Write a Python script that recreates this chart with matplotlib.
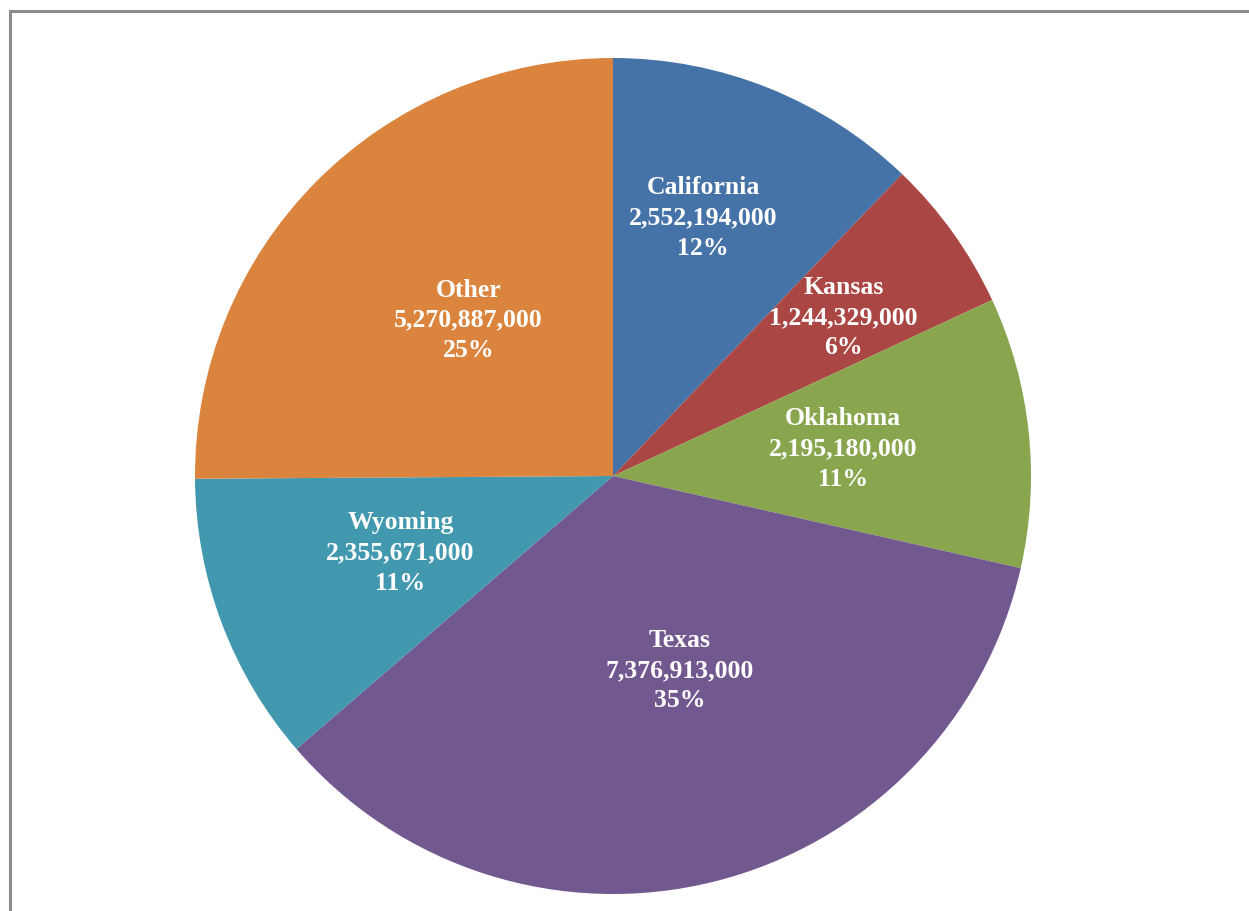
import numpy as np
import matplotlib.pyplot as plt
from matplotlib.lines import Line2D

# Data
states = ['California', 'Kansas', 'Oklahoma', 'Texas', 'Wyoming', 'Other']
values = [2552194000, 1244329000, 2195180000, 7376913000, 2355671000, 5270887000]
pct_labels = ['12%', '6%', '11%', '35%', '11%', '25%']
colors = ['#4572A7', '#AA4643', '#89A54E', '#71588F', '#4198AF', '#DB843D']
# label placement: fraction of radius and angular nudge (deg) from slice middle
label_dist = [0.656, 0.67, 0.555, 0.49, 0.54, 0.51]
label_turn = [2.7, -0.9, 0.9, 5.1, -0.9, -2.5]

W, H = 1249, 912
fig = plt.figure(figsize=(W / 100, H / 100), dpi=100)
ax = fig.add_axes([0, 0, 1, 1])

cx, cy, r = 613, H - 477, 418
wedges, _ = ax.pie(values, colors=colors, startangle=90, counterclock=False,
                   center=(cx, cy), radius=r, frame=True)
ax.set_xlim(0, W)
ax.set_ylim(0, H)
ax.set_aspect('equal')
ax.axis('off')

for w, name, v, p, d, t in zip(wedges, states, values, pct_labels, label_dist, label_turn):
    mid = np.deg2rad((w.theta1 + w.theta2) / 2 + t)
    x = cx + d * r * np.cos(mid)
    y = cy + d * r * np.sin(mid)
    ax.text(x, y, f'{name}\n{v:,}\n{p}', ha='center', va='center',
            color='white', fontsize=18.5, fontweight='bold',
            family='Liberation Serif', linespacing=1.4)

# chart frame (only top and left visible in the crop)
fig.add_artist(Line2D([10 / W, 1], [1 - 12 / H, 1 - 12 / H], color='#8c8c8c', lw=2.2,
                      transform=fig.transFigure))
fig.add_artist(Line2D([10 / W, 10 / W], [0, 1 - 12 / H], color='#8c8c8c', lw=2.2,
                      transform=fig.transFigure))

fig.savefig('out.png', dpi=100, facecolor='white')
